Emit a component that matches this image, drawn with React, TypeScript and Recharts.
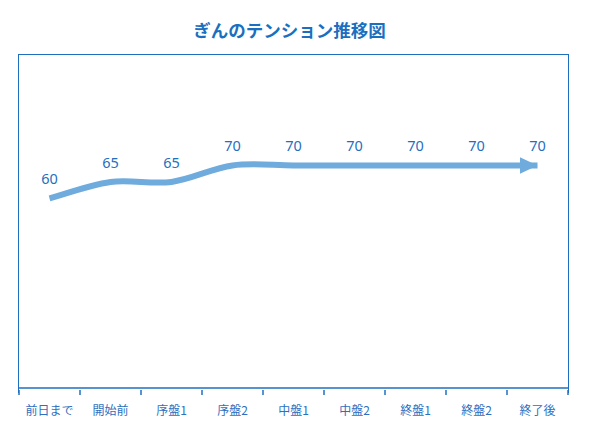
import { LineChart, Line, XAxis, YAxis, LabelList } from "recharts";

const categories = ["前日まで", "開始前", "序盤1", "序盤2", "中盤1", "中盤2", "終盤1", "終盤2", "終了後"];
const tension = [60, 65, 65, 70, 70, 70, 70, 70, 70];

const data = categories.map((name, i) => ({ name, value: tension[i] }));

const BLUE = "#1f6fbf";
const LINE = "#6fabdc";
const W = 597;
const H = 440;
const AXIS_H = 52;
const margin = { top: 55, right: 29, bottom: 0, left: 19 };
const plotW = W - margin.left - margin.right;
const band = plotW / categories.length;

// Excel-like smooth line (Catmull-Rom through every point)
const smoothCurve = (context: any) => {
  let pts: number[][] = [];
  return {
    areaStart() {},
    areaEnd() {},
    lineStart() {
      pts = [];
    },
    lineEnd() {
      if (!pts.length) return;
      context.moveTo(pts[0][0], pts[0][1]);
      for (let i = 0; i < pts.length - 1; i++) {
        const p0 = pts[i - 1] || pts[i];
        const p1 = pts[i];
        const p2 = pts[i + 1];
        const p3 = pts[i + 2] || p2;
        context.bezierCurveTo(
          p1[0] + (p2[0] - p0[0]) / 6,
          p1[1] + (p2[1] - p0[1]) / 6,
          p2[0] - (p3[0] - p1[0]) / 6,
          p2[1] - (p3[1] - p1[1]) / 6,
          p2[0],
          p2[1]
        );
      }
    },
    point(x: number, y: number) {
      pts.push([+x, +y]);
    },
  };
};

const CategoryTick = (props: any) => {
  const { x, y, payload, index } = props;
  const last = index === categories.length - 1;
  return (
    <g>
      <line x1={x - band / 2} x2={x - band / 2} y1={y} y2={y + 5} stroke={BLUE} strokeWidth={1.5} />
      {last && <line x1={x + band / 2} x2={x + band / 2} y1={y} y2={y + 5} stroke={BLUE} strokeWidth={1.5} />}
      <text x={x} y={y + 25} textAnchor="middle" fill="#2e6fbe" fontSize={12} fontFamily="'Noto Sans CJK JP', sans-serif">
        {payload.value}
      </text>
    </g>
  );
};

export default function App() {
  return (
    <div style={{ position: "absolute", left: 0, top: 0, width: W, height: H, background: "#fff" }}>
      <svg width={0} height={0} style={{ position: "absolute" }}>
        <defs>
          <marker id="arrowHead" markerUnits="userSpaceOnUse" markerWidth={18} markerHeight={17} refX={18} refY={8.5} orient="auto">
            <path d="M0,0 L18,8.5 L0,17 Z" fill={LINE} />
          </marker>
        </defs>
      </svg>
      <div
        style={{
          position: "absolute",
          left: 0,
          width: W - 18,
          top: 17,
          textAlign: "center",
          color: "#1a6fc0",
          fontFamily: "'Noto Sans CJK JP', sans-serif",
          fontWeight: 700,
          fontSize: 17.5,
          lineHeight: "26px",
        }}
      >
        ぎんのテンション推移図
      </div>
      {/* plot frame: top, left and right edges */}
      <div
        style={{
          position: "absolute",
          left: margin.left - 0.75,
          top: margin.top - 0.75,
          width: plotW,
          height: H - AXIS_H - margin.top + 5,
          borderTop: `1.5px solid ${BLUE}`,
          borderLeft: `1.5px solid ${BLUE}`,
          borderRight: `1.5px solid ${BLUE}`,
        }}
      />
      <LineChart width={W} height={H} data={data} margin={margin} style={{ position: "absolute", left: 0, top: 0 }}>
        <XAxis
          dataKey="name"
          interval={0}
          padding={{ left: band / 2, right: band / 2 }}
          axisLine={{ stroke: BLUE, strokeWidth: 1.5 }}
          tickLine={false}
          tick={<CategoryTick />}
          tickSize={0}
          height={AXIS_H}
        />
        <YAxis domain={[2.5, 103.5]} hide />
        <Line
          dataKey="value"
          type={smoothCurve as any}
          stroke={LINE}
          strokeWidth={6}
          strokeLinecap="butt"
          dot={false}
          activeDot={false}
          markerEnd="url(#arrowHead)"
          isAnimationActive={false}
        >
          <LabelList dataKey="value" position="top" offset={14} fill="#1f6fbf" fontSize={14.5} fontFamily="'Noto Sans', sans-serif" />
        </Line>
      </LineChart>
    </div>
  );
}
